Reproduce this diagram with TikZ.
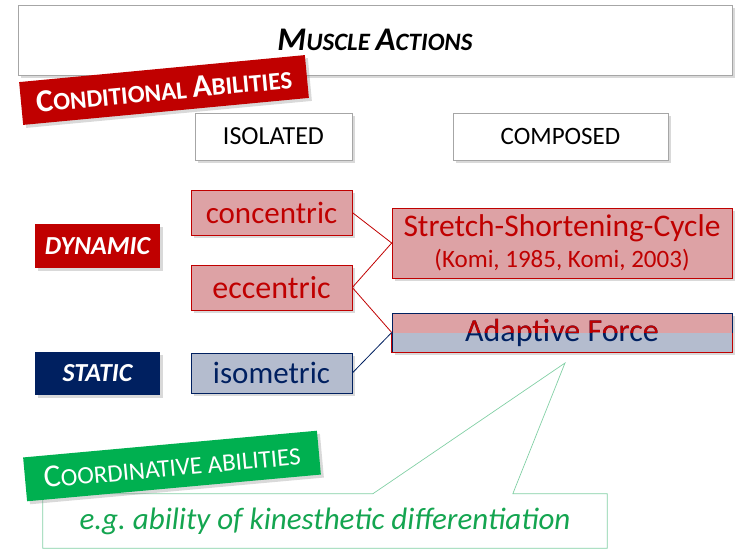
\documentclass[tikz,border=0pt]{standalone}
\usepackage{fontspec}
\setmainfont{Carlito}
\usetikzlibrary{shadows, calc}
\definecolor{condred}{HTML}{C00000}
\definecolor{navy}{HTML}{002060}
\definecolor{pinkfill}{RGB}{221,162,165}
\definecolor{bluefill}{RGB}{180,188,206}
\definecolor{coordgreen}{HTML}{00B050}
\definecolor{calloutline}{RGB}{130,208,165}
\definecolor{callouttext}{RGB}{20,165,80}
\newcommand{\fsz}[1]{\fontsize{#1}{#1}\selectfont}

\begin{document}
\begin{tikzpicture}[x=1pt, y=-1pt]
\tikzset{
  shade box/.style={drop shadow={opacity=0.3, shadow xshift=3pt, shadow yshift=-3pt}},
  head/.style={draw=black!35, fill=white, line width=0.5pt, shade box, inner sep=0pt},
  band/.style={fill=#1, text=white, inner sep=0pt, shade box},
  label/.style={fill=#1, text=white, inner sep=0pt, shade box, font=\fsz{26}\bfseries\itshape},
  redbox/.style={draw=condred, fill=pinkfill, text=condred, line width=0.6pt, inner sep=0pt, shade box},
  bluebox/.style={draw=navy, fill=bluefill, text=navy, line width=0.6pt, inner sep=0pt, shade box}
}
\useasboundingbox (0,0) rectangle (739,554);

% headings
\node[head, minimum width=714pt, minimum height=70pt] (title) at (375,40)
  {\fsz{25}\bfseries\itshape{\fsz{33}M}USCLE {\fsz{33}A}CTIONS};
\node[head, minimum width=157pt, minimum height=47pt] (isolated) at (273.5,136.5) {\fsz{26}ISOLATED};
\node[head, minimum width=215pt, minimum height=47pt] (composed) at (560.5,136.5) {\fsz{25}COMPOSED};
\node[band=condred, minimum width=287pt, minimum height=43pt, rotate=5.4] (conditional) at (164,90)
  {\fsz{25}\bfseries{\fsz{32}C}ONDITIONAL {\fsz{32}A}BILITIES};

% left labels
\node[label=condred, minimum width=125pt, minimum height=44pt] (dynamic) at (97.5,246) {DYNAMIC};
\node[label=navy, minimum width=125pt, minimum height=43pt] (static) at (97.5,373.5) {STATIC};

% isolated actions
\node[redbox, minimum width=161pt, minimum height=45pt, font=\fsz{31}] (concentric) at (271.5,212.5) {concentric};
\node[redbox, minimum width=161pt, minimum height=45pt, font=\fsz{32}] (eccentric) at (271.5,287.5) {eccentric};
\node[bluebox, minimum width=161pt, minimum height=40pt, font=\fsz{31}] (isometric) at (271.5,373) {isometric};

% composed actions
\node[redbox, minimum width=340pt, minimum height=70pt, align=center] (ssc) at (562,243)
  {\fsz{31.5}Stretch-Shortening-Cycle\\[6pt]\fsz{25}(Komi, 1985, Komi, 2003)};
\node[draw=navy, line width=0.6pt, inner sep=0pt, minimum width=340pt, minimum height=39pt,
  shade box, fill=bluefill, text=navy, font=\fsz{32},
  path picture={\fill[pinkfill] (path picture bounding box.north west) rectangle (path picture bounding box.east);}]
  (adapt) at (562,332.5) {Adaptive Force};
\begin{scope}
  \clip (adapt.north west) rectangle (adapt.east);
  \node[text=condred, inner sep=0pt, font=\fsz{32}] at (adapt) {Adaptive Force};
\end{scope}
\draw[condred, line width=0.6pt] (adapt.west) -- (adapt.south west) -- (adapt.south east) -- (adapt.east);

\draw[condred, line width=0.8pt] (concentric.east) -- (ssc.west);
\draw[condred, line width=0.8pt] (eccentric.east) -- (ssc.west);
\draw[condred, line width=0.8pt] (eccentric.east) -- (adapt.west);
\draw[navy, line width=0.8pt] (isometric.east) -- (adapt.west);

% coordinative callout
\node[inner sep=0pt, minimum width=564pt, minimum height=54pt, text=callouttext, font=\fsz{31}\itshape]
  (callout) at (325,521) {e.g.\ ability of kinesthetic differentiation};
\coordinate (tip) at (565,363);
\draw[calloutline, line width=0.7pt] (callout.north west) -- ($(callout.north west)+(330,0)$) -- (tip)
  -- ($(callout.north west)+(470,0)$) -- (callout.north east) -- (callout.south east)
  -- (callout.south west) -- cycle;
\node[band=coordgreen, minimum width=295pt, minimum height=44pt, rotate=5.2] (coordinative) at (172,466)
  {\fsz{25}{\fsz{32}C}OORDINATIVE ABILITIES};
\end{tikzpicture}
\end{document}
